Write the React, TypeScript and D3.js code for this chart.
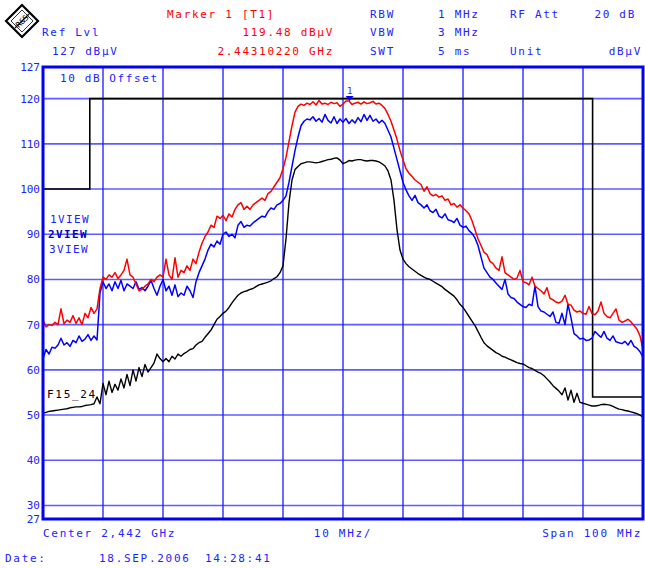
import React from "react";
import * as d3 from "d3";

// Sweep grid: 201 points across 100 MHz span (offset from center, MHz)
const SWEEP_POINTS = 201;
const SPAN_START = -50;
const SPAN_STEP = 0.5;

const redTrace = [
  71,69.5,70,69.8,70.5,70,73.5,70.2,71,70.5,
  72,70.3,71.5,70,72.5,71.5,73.8,72.5,73.5,78,
  80.5,80,81,80.5,81.5,80.2,81,82,84.5,81,
  80.5,79,77.5,77.8,78.5,79,80,79.5,80.5,81,
  80.5,84.5,81,80,84.8,80.5,82,81.5,83,82,
  84.5,83.5,86,88,89.5,90.5,92,91.5,94,93.5,
  94.2,93,94.5,93.8,95.5,96.5,97,95.5,96.2,95.5,
  96.5,97,97.5,98,97.5,99,99.5,100.5,101.5,102.5,
  104.5,107,110.5,114,117,118.3,118.8,118.5,119,118.7,
  119.3,118.6,119.6,118.8,119,118.7,119.2,118.9,119.1,118.3,
  118.8,119.5,119.5,118.7,119,119.2,118.8,119.3,118.9,119.1,
  119.4,118.8,119,118.5,117.8,116.5,115,113,111,108.5,
  106.5,104.5,103.5,102.8,102,101.5,101,99.5,100.5,99,
  98.5,98.8,98.2,98.5,97.5,97.8,96.5,96.8,96,96.5,
  95.8,95.2,94.5,93,91,89,87.5,86,85.5,84,
  83.5,82.5,82,85,81.5,81,80.5,80,80.3,82,
  79.5,79.3,78.8,80.5,78.5,78,77.5,76.8,78.2,75.8,
  75.5,75,74.8,75.2,76.5,74.5,74.3,73.2,72.8,73,
  72.5,72.3,74,72.5,72.2,73,75,72.5,71.8,71.5,
  72.5,73.5,71,70.5,70.8,71.2,70.6,69.8,69,67.5,
  64.5,
];

const blueTrace = [
  62.5,64.5,63.5,65,64.8,65.5,67,65.5,66,65.2,
  66.5,66,67.5,66.3,66.8,67.8,66.5,67.5,66.6,77,
  79.5,78,79,77.5,79.5,78,79.8,77.5,79,78.5,
  78,79.5,77.8,78.2,77.5,78.5,79.8,78,76.5,78.5,
  80,77.5,78.5,76.5,78.8,76.2,77,76.5,78.5,77.5,
  76,79.5,81.5,83,84.5,86.5,87.8,87.2,88.5,87.8,
  90,90.5,89.5,90,89.2,92,92.8,91.5,92,91.8,
  92.5,93,93.5,94,93.8,95,95.8,95.5,96.5,96.8,
  97.5,98.5,101.5,105,108.5,111.5,114,115,115.5,115.3,
  116,115,115.6,114.8,116.5,115.2,114.6,116,114.5,115.5,
  114.8,115.6,114.5,115.3,114.6,115.8,114.9,116.5,115.2,116.3,
  115,115.5,114.6,115.2,114.5,113,111.5,109,106.5,104,
  101.5,99.8,98.5,97.5,98.6,97,96.5,95.8,96.5,95.2,
  94.8,95.5,94,93.6,94.5,93.2,93,92.6,93.5,92,
  91.5,91.8,90.8,90.2,89.2,87.5,85,82.5,81.5,80.5,
  80,79.2,78.5,77.8,80,76.8,76,75.8,75,74.5,
  74,73.8,74.5,74.2,78.5,74,73,72.8,72.3,71.8,
  72.8,70.5,70.3,72.5,70,74.5,71.5,68,67.5,66.8,
  67,66.5,66.6,67,68.5,67.8,67.2,68.5,67,66.5,
  67.5,66.2,66,65.8,66.3,65.5,66.5,65.2,64.8,64,
  62.8,
];

const blackTrace = [
  50.4,50.6,50.8,50.9,51,51.1,51.2,51.3,51.4,51.6,
  51.7,51.8,51.8,51.9,52.1,52.2,52.3,52.5,54,52.5,
  57,54.5,57.5,55,56.8,55.5,58,56,59,56.5,
  60,57.5,60.5,58.5,61.2,59.5,60.5,61.5,63.5,62.5,
  61.8,62.5,61.8,63,62.4,63.5,63,63.6,64,64.5,
  64.7,65.5,66,66.3,67.2,68,68.8,70,71.2,71.8,
  72.5,73,73.8,74.8,75.7,76.5,77,77.3,77.5,77.8,
  78,78.4,78.8,79,79.2,79.4,79.7,80.2,80.6,81.5,
  83,89,97,102,104.3,105,105.6,105.8,106,106,
  105.9,105.8,105.9,106.1,106.3,106.5,106.6,106.8,106.9,106.4,
  105.6,105.9,106.3,106.2,106.4,106.5,106.5,106.3,106.2,106.3,
  106.3,106.2,106,105.6,105.1,104,102,97.5,91,86.5,
  84.5,83.5,82.8,82.3,81.8,81.3,80.9,80.5,80.2,80,
  79.6,79.2,78.8,78.4,77.8,77.3,76.8,76.3,75.5,74.5,
  73.8,72.8,71.8,70.8,69.8,68.5,67.2,66,65.3,64.8,
  64.3,63.8,63.5,63,62.8,62.5,62.2,61.9,61.6,61.4,
  61.3,60.9,60.5,60.3,59.9,59.5,59.2,58.7,58,57.3,
  56.5,55.9,55.3,54.5,56,53.3,55.5,52.8,54.8,52.8,
  52.6,52.4,52.2,52,52,52.1,52.3,52.4,52.3,52.2,
  51.9,51.6,51.3,51.2,51,50.9,50.7,50.5,50.3,50,
  49.5,
];

// Limit line (frequency offset MHz, level dBµV)
const limitFreq = [-50, -42.2, -42.2, 41.6, 41.6, 50];
const limitLevel = [100, 100, 120, 120, 54, 54];

// Marker 1
const markerFreq = 1.1;
const markerLevel = 119.48;

// Axis ticks
const yGridValues = [30, 40, 50, 60, 70, 80, 90, 100, 110, 120];
const yTickValues = [127, 120, 110, 100, 90, 80, 70, 60, 50, 40, 30, 27];
const xGridValues = [-40, -30, -20, -10, 0, 10, 20, 30, 40];

const W = 645;
const H = 568;
const BLUE = "#0000ff";
const TEXT_BLUE = "#2222ff";
const RED = "#ff0000";
const FONT = "'DejaVu Sans Mono', 'Liberation Mono', monospace";

export default function App() {
  const x = d3.scaleLinear().domain([-50, 50]).range([43, 643]);
  const y = d3.scaleLinear().domain([27, 127]).range([519, 67]);

  const freqs = d3.range(SWEEP_POINTS).map((i) => SPAN_START + i * SPAN_STEP);
  const line = d3
    .line<number>()
    .x((_, i) => x(freqs[i]))
    .y((v) => y(v));

  const limitPath = d3
    .line<number>()
    .x((f) => x(f))
    .y((_, i) => y(limitLevel[i]))(limitFreq);

  const mx = x(markerFreq);
  const my = y(markerLevel);

  const hdr = { fontFamily: FONT, fontSize: 11, letterSpacing: 1.7 } as const;

  return (
    <svg
      width={W}
      height={H}
      style={{ position: "absolute", left: 0, top: 0, background: "#fff" }}
    >
      <rect x={0} y={0} width={W} height={H} fill="#fff" />

      {/* Logo */}
      <g>
        <polygon points="22,5 38,21 22,37 6,21" fill="#fff" stroke="#000" strokeWidth={2.2} />
        <polygon points="22,10 33,21 22,32 11,21" fill="none" stroke="#000" strokeWidth={0.8} />
        <line x1={15} y1={28} x2={29} y2={14} stroke="#000" strokeWidth={1.2} />
        <text x={22} y={24} textAnchor="middle" fontFamily={FONT} fontSize={8} fill="#000" transform="rotate(-45 22 21)">R&amp;S</text>
      </g>

      {/* Header */}
      <g {...hdr}>
        <text x={42} y={36} fill={TEXT_BLUE}>Ref Lvl</text>
        <text x={52} y={55} fill={TEXT_BLUE}>127 dBµV</text>
        <text x={167} y={18} fill={RED}>Marker 1 [T1]</text>
        <text x={334} y={36} fill={RED} textAnchor="end">119.48 dBµV</text>
        <text x={334} y={55} fill={RED} textAnchor="end">2.44310220 GHz</text>
        <text x={370} y={18} fill={TEXT_BLUE}>RBW</text>
        <text x={370} y={36} fill={TEXT_BLUE}>VBW</text>
        <text x={370} y={55} fill={TEXT_BLUE}>SWT</text>
        <text x={438} y={18} fill={TEXT_BLUE}>1 MHz</text>
        <text x={438} y={36} fill={TEXT_BLUE}>3 MHz</text>
        <text x={438} y={55} fill={TEXT_BLUE}>5 ms</text>
        <text x={510} y={18} fill={TEXT_BLUE}>RF Att</text>
        <text x={510} y={55} fill={TEXT_BLUE}>Unit</text>
        <text x={636} y={18} fill={TEXT_BLUE} textAnchor="end">20 dB</text>
        <text x={642} y={55} fill={TEXT_BLUE} textAnchor="end">dBµV</text>
      </g>

      {/* Grid */}
      {yGridValues.map((v) => (
        <line key={"h" + v} x1={43} x2={643} y1={y(v)} y2={y(v)} stroke="#5c5cff" strokeWidth={1.6} />
      ))}
      {xGridValues.map((f) => (
        <line key={"v" + f} x1={x(f)} x2={x(f)} y1={67} y2={519} stroke="#1a1aff" strokeWidth={1.3} />
      ))}

      {/* Y tick labels */}
      {yTickValues.map((v) => (
        <text key={"t" + v} x={40} y={y(v) + 4} textAnchor="end" fontFamily={FONT} fontSize={11} fill={TEXT_BLUE}>
          {v}
        </text>
      ))}

      {/* Limit line */}
      <path d={limitPath || ""} fill="none" stroke="#000" strokeWidth={1.6} />

      {/* Traces */}
      <path d={line(blackTrace) || ""} fill="none" stroke="#000" strokeWidth={1.4} strokeLinejoin="round" />
      <path d={line(blueTrace) || ""} fill="none" stroke={BLUE} strokeWidth={1.5} strokeLinejoin="round" />
      <path d={line(redTrace) || ""} fill="none" stroke={RED} strokeWidth={1.5} strokeLinejoin="round" />

      {/* Marker */}
      <polygon points={`${mx - 4},${my - 5} ${mx + 4},${my - 5} ${mx},${my}`} fill={BLUE} />
      <text x={mx} y={my - 7} textAnchor="middle" fontFamily={FONT} fontSize={9} fill={TEXT_BLUE}>1</text>

      {/* In-plot labels */}
      <text x={60} y={82} fontFamily={FONT} fontSize={11} letterSpacing={1.6} fill={TEXT_BLUE}>10 dB Offset</text>
      <text x={50} y={223} fontFamily={FONT} fontSize={11} letterSpacing={1.4} fill={TEXT_BLUE}>1VIEW</text>
      <text x={48} y={238} fontFamily={FONT} fontSize={11} letterSpacing={1.4} fill="#0000cc" fontWeight="bold">2VIEW</text>
      <text x={49} y={253} fontFamily={FONT} fontSize={11} letterSpacing={1.4} fill={TEXT_BLUE}>3VIEW</text>
      <text x={47} y={398} fontFamily={FONT} fontSize={11} letterSpacing={1.7} fill="#000">F15_24</text>

      {/* Frame */}
      <rect x={43} y={67} width={600} height={452} fill="none" stroke={BLUE} strokeWidth={3} />

      {/* Footer */}
      <g {...hdr}>
        <text x={43} y={537} fill={TEXT_BLUE}>Center 2,442 GHz</text>
        <text x={343} y={537} fill={TEXT_BLUE} textAnchor="middle">10 MHz/</text>
        <text x={642} y={537} fill={TEXT_BLUE} textAnchor="end">Span 100 MHz</text>
        <text x={5} y={562} fill={TEXT_BLUE}>Date:</text>
        <text x={99} y={562} fill={TEXT_BLUE}>18.SEP.2006</text>
        <text x={205} y={562} fill={TEXT_BLUE}>14:28:41</text>
      </g>
    </svg>
  );
}
